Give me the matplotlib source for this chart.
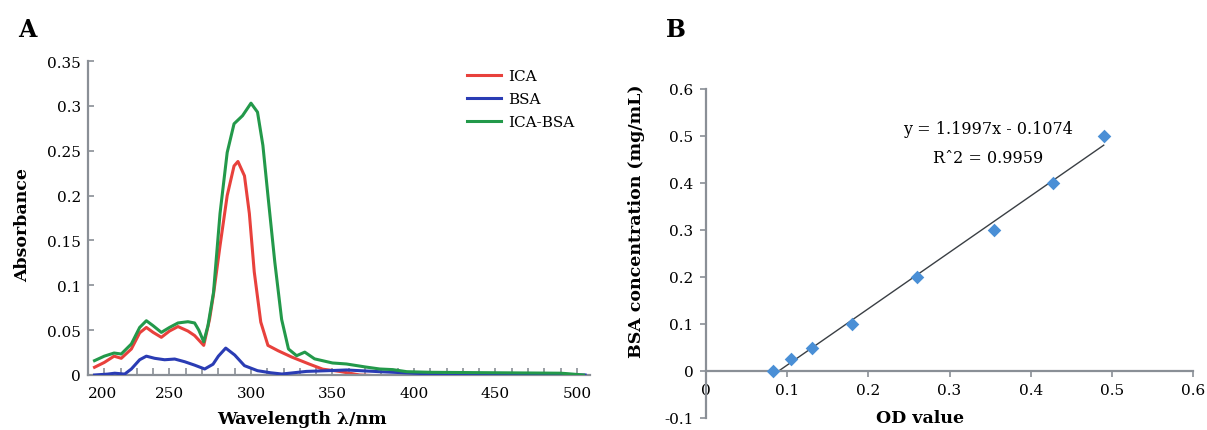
import matplotlib
matplotlib.use("Agg")
import matplotlib.pyplot as plt
import numpy as np
from matplotlib.ticker import MultipleLocator

plt.rcParams['font.family'] = ['DejaVu Serif']

# ---------------- Panel A data ----------------
ica_nm = [204, 210, 216, 220.4, 226.6, 231.7, 235.8, 239.9, 245, 250, 255.2, 261.3,
          265.4, 271, 274.6, 277, 281, 285.4, 289.6, 292, 296, 299, 302, 306,
          310.4, 316.7, 325, 335.6, 344, 354.4, 366.7, 380, 414]
ica_abs = [0.0086, 0.014, 0.021, 0.0186, 0.029, 0.047, 0.053, 0.0476, 0.042, 0.049, 0.054, 0.049,
           0.044, 0.033, 0.0624, 0.090, 0.144, 0.200, 0.233, 0.238, 0.222, 0.180, 0.115, 0.059,
           0.033, 0.027, 0.020, 0.0123, 0.0065, 0.0040, 0.0, -0.001, -0.001]

bsa_nm = [204, 212, 216.4, 222.5, 226.6, 231.7, 235.8, 240.9, 247, 253.2, 259.3, 265.4,
          271.6, 276.7, 280, 284.5, 290, 296, 304, 312, 319, 334, 350, 358.5,
          379, 400, 414, 420, 505]
bsa_abs = [0.0, 0.001, 0.002, 0.001, 0.0067, 0.017, 0.021, 0.0186, 0.017, 0.0178, 0.0148, 0.011,
           0.0067, 0.012, 0.021, 0.030, 0.0223, 0.0104, 0.0048, 0.0025, 0.0011, 0.004, 0.005, 0.0056,
           0.0037, 0.002, 0.001, 0.0, 0.0]

icabsa_nm = [204, 210, 216, 220.4, 226.6, 231.7, 235.8, 239.9, 245, 250, 255.2, 261.3,
             265.4, 268, 271, 273.6, 277, 281, 285.4, 289.6, 294.8, 300, 304, 307.3,
             310.4, 314.6, 318.8, 323, 328, 333, 339, 350, 358.5, 370, 379, 387,
             395.6, 410, 490, 494, 504]
icabsa_abs = [0.016, 0.021, 0.0245, 0.0234, 0.0346, 0.053, 0.0605, 0.055, 0.0475, 0.053, 0.058, 0.0594,
              0.058, 0.050, 0.037, 0.055, 0.092, 0.180, 0.248, 0.280, 0.289, 0.303, 0.293, 0.256,
              0.200, 0.126, 0.062, 0.029, 0.0215, 0.0255, 0.018, 0.0134, 0.0123, 0.009, 0.0067, 0.006,
              0.0037, 0.003, 0.002, 0.0015, 0.0]

a_xticks = [200, 250, 300, 350, 400, 450, 500]
a_yticks = [0, 0.05, 0.1, 0.15, 0.2, 0.25, 0.3, 0.35]
a_yticklabels = ['0', '0.05', '0.1', '0.15', '0.2', '0.25', '0.3', '0.35']
series_names = ['ICA', 'BSA', 'ICA-BSA']

# ---------------- Panel B data ----------------
od_values = [0.083, 0.105, 0.130, 0.180, 0.260, 0.355, 0.428, 0.490]
bsa_conc = [0.0, 0.025, 0.05, 0.10, 0.20, 0.30, 0.40, 0.50]
slope = 1.1997
intercept = -0.1074
b_xticks = [0, 0.1, 0.2, 0.3, 0.4, 0.5, 0.6]
b_xticklabels = ['0', '0.1', '0.2', '0.3', '0.4', '0.5', '0.6']
b_yticks = [-0.1, 0, 0.1, 0.2, 0.3, 0.4, 0.5, 0.6]
b_yticklabels = ['-0.1', '0', '0.1', '0.2', '0.3', '0.4', '0.5', '0.6']

W, H = 1207, 431
fig = plt.figure(figsize=(W / 100, H / 100), dpi=100)

def box(l, t, r, b):
    return [l / W, 1 - b / H, (r - l) / W, (b - t) / H]

spine_col = '#8a8f96'

# ---------------- Panel A ----------------
axA = fig.add_axes(box(88, 62, 590, 376))
c_red, c_blue, c_green = '#e8413c', '#2a3cb4', '#23994a'
axA.plot(ica_nm, ica_abs, color=c_red, lw=2.2, label=series_names[0], zorder=2)
axA.plot(bsa_nm, bsa_abs, color=c_blue, lw=2.2, label=series_names[1], zorder=3)
axA.plot(icabsa_nm, icabsa_abs, color=c_green, lw=2.2, label=series_names[2], zorder=4)
axA.set_xlim(200, 508)
axA.set_ylim(0, 0.35)
axA.set_xticks(a_xticks)
axA.set_xticklabels([str(v) for v in a_xticks])
axA.get_xticklabels()[0].set_ha('left')
axA.xaxis.set_minor_locator(MultipleLocator(10))
axA.set_yticks(a_yticks)
axA.set_yticklabels(a_yticklabels)
for s in ['top', 'right']:
    axA.spines[s].set_visible(False)
for s in ['left', 'bottom']:
    axA.spines[s].set_color(spine_col)
    axA.spines[s].set_linewidth(1.6)
axA.tick_params(axis='x', which='both', direction='in', length=5, width=1.2,
                color=spine_col, labelsize=11, pad=8)
axA.tick_params(axis='y', which='both', direction='in', length=4, width=1.2,
                color=spine_col, labelsize=11, pad=5)
axA.set_xlabel('Wavelength λ/nm', fontsize=12.5, fontweight='bold')
axA.xaxis.set_label_coords(0.426, -0.14)
axA.xaxis.label.set_va('center')
axA.set_ylabel('Absorbance', fontsize=12.5, fontweight='bold')
axA.yaxis.set_label_coords(-0.131, 0.48)
axA.yaxis.label.set_va('center')
axA.legend(loc='upper left', bbox_to_anchor=(0.755, 0.975), frameon=False,
           fontsize=11, handlelength=2.2, handletextpad=0.5,
           labelspacing=0.6, borderpad=0, borderaxespad=0)

fig.text(27 / W, 1 - 30 / H, 'A', fontsize=17, fontweight='bold', ha='center', va='center')
fig.text(676 / W, 1 - 30 / H, 'B', fontsize=17, fontweight='bold', ha='center', va='center')

# ---------------- Panel B ----------------
axB = fig.add_axes(box(706, 90, 1193, 419))
axB.scatter(od_values, bsa_conc, marker='D', s=48, color='#4a8fd6', zorder=3, linewidths=0)
xfit = np.array([min(od_values), max(od_values)])
axB.plot(xfit, slope * xfit + intercept, color='#3a3f44', lw=1.0, zorder=2)
axB.set_xlim(0, 0.6)
axB.set_ylim(-0.1, 0.6)
axB.set_xticks(b_xticks)
axB.set_xticklabels(b_xticklabels)
axB.set_yticks(b_yticks)
axB.set_yticklabels(b_yticklabels)
for s in ['top', 'right']:
    axB.spines[s].set_visible(False)
axB.spines['bottom'].set_position(('data', 0))
for s in ['left', 'bottom']:
    axB.spines[s].set_color(spine_col)
    axB.spines[s].set_linewidth(1.6)
axB.tick_params(axis='x', direction='out', length=4, width=1.2, color=spine_col,
                labelsize=11, pad=5)
axB.tick_params(axis='y', direction='out', length=4, width=1.2, color=spine_col,
                labelsize=11, pad=5)
axB.set_xlabel('OD value', fontsize=12.5, fontweight='bold')
axB.xaxis.set_label_coords(0.44, 0.0)
axB.xaxis.label.set_va('center')
axB.set_ylabel('BSA concentration (mg/mL)', fontsize=12.5, fontweight='bold')
axB.yaxis.set_label_coords(-0.142, 0.6)
axB.yaxis.label.set_va('center')
axB.text(0.58, 0.88, 'y = 1.1997x - 0.1074', transform=axB.transAxes,
         fontsize=11.5, ha='center', va='center')
axB.text(0.58, 0.792, 'Rˆ2 = 0.9959', transform=axB.transAxes,
         fontsize=11.5, ha='center', va='center')

fig.savefig('out.png', dpi=100)
